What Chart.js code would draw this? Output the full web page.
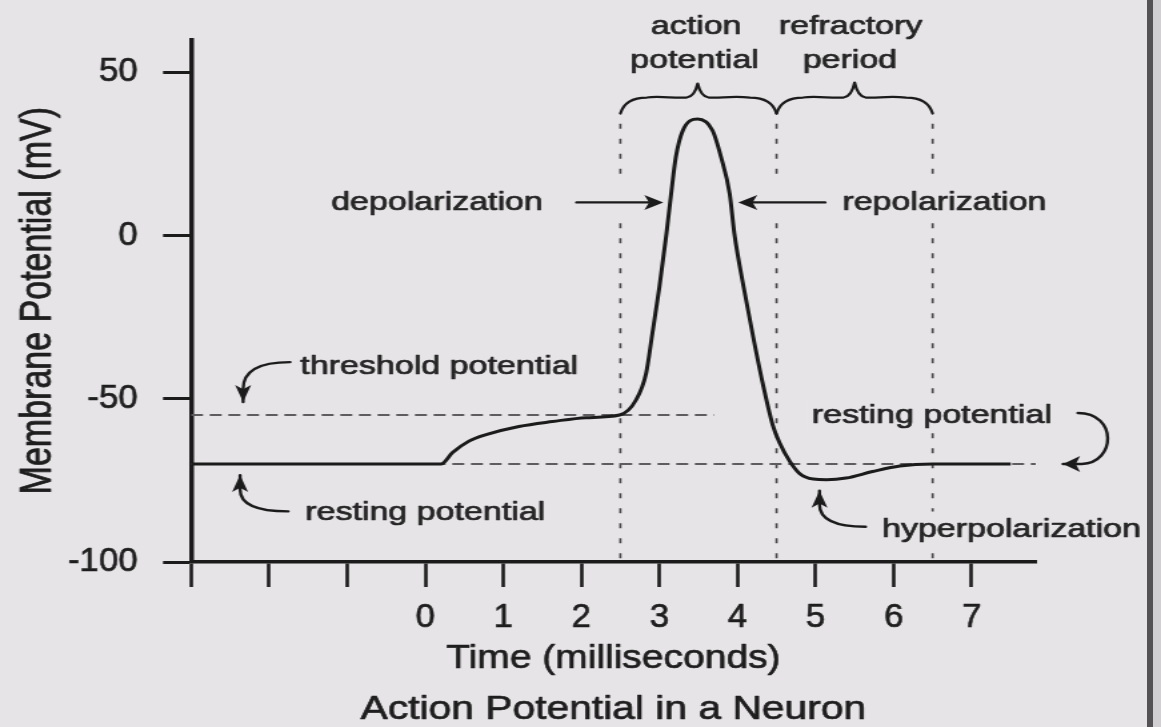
<!DOCTYPE html>
<html>
<head>
<meta charset="utf-8">
<script src="https://cdn.jsdelivr.net/npm/chart.js@4/dist/chart.umd.min.js"></script>
<style>
  html, body { margin: 0; padding: 0; background: #e7e4e7; overflow: hidden; }
  #wrap { position: relative; width: 1161px; height: 727px; }
  #c { display: block; width: 1161px !important; height: 727px !important; }
  #edge { position: absolute; left: 1147px; top: 0; width: 6px; height: 727px; background: #555255; }
  #edge2 { position: absolute; left: 1153px; top: 0; width: 8px; height: 727px; background: #d2cfd2; }
</style>
</head>
<body>
<div id="wrap">
  <canvas id="c" width="871" height="727" style="width:1161px;height:727px;"></canvas>
  <div id="edge"></div><div id="edge2"></div>
</div>
<script>
// ---- data ----
const timeMs = [-3, 0, 0.2, 0.35, 0.56, 0.78, 1.2, 1.63, 2.06, 2.49, 2.7, 2.83, 2.91, 3.0, 3.09, 3.15, 3.21, 3.3, 3.49, 3.68, 3.79, 3.9, 3.96, 4.08, 4.2, 4.32, 4.45, 4.54, 4.67, 4.79, 4.97, 5.14, 5.39, 5.73, 6.08, 6.5, 7.5];
const membraneMv = [-70, -70, -70, -66.5, -63, -61, -58.5, -57, -55.8, -55, -50.4, -42.2, -30, -15.8, 0.5, 12.7, 23.9, 32.1, 35.6, 32.1, 23.9, 12.7, 0.5, -16, -31, -45, -58, -63.6, -69.2, -72.8, -74.6, -74.8, -74.3, -72.3, -70.6, -70, -70];
const xTickValues = [-3, -2, -1, 0, 1, 2, 3, 4, 5, 6, 7];
const xTickLabels = ['', '', '', '0', '1', '2', '3', '4', '5', '6', '7'];
const yTickValues = [-100, -50, 0, 50];
const yTickLabels = ['-100', '-50', '0', '50'];
const thresholdMv = -55;
const restingMv = -70;
const thresholdLineEndMs = 3.7;
const phaseBoundariesMs = [2.5, 4.5, 6.5];
const boundaryTopMv = 34.2;
const boundaryGapMv = [17.8, 3.7];
const xRange = [-3, 7.82];
const yRange = [-100, 60];

// ---- annotation layout (data units) ----
const textNotes = [
  { text: 'action', x: 3.47, y: 61.6 },
  { text: 'potential', x: 3.45, y: 51.2 },
  { text: 'refractory', x: 5.45, y: 61.6 },
  { text: 'period', x: 5.44, y: 51.2 },
  { text: 'depolarization', x: 0.15, y: 7.9 },
  { text: 'repolarization', x: 6.65, y: 7.9 },
  { text: 'threshold potential', x: 0.18, y: -42.3 },
  { text: 'resting potential', x: 0.0, y: -87.0 },
  { text: 'resting potential', x: 6.49, y: -57.5, knockout: true },
  { text: 'hyperpolarization', x: 7.51, y: -92.2, knockout: true }
];
const straightArrows = [
  { from: [1.94, 10.1], to: [3.05, 10.1] },
  { from: [5.12, 10.1], to: [4.01, 10.1] }
];
const curvedArrows = [
  { pts: [[-1.731, -38.8], [-2.333, -38.8], [-2.333, -47.0]], tip: [-2.333, -51.0] },
  { pts: [[-1.756, -84.5], [-2.372, -84.5], [-2.372, -77.8]], tip: [-2.372, -73.4] },
  { pts: [[5.64, -89.2], [5.05, -89.2], [5.05, -82.4]], tip: [5.05, -78.2] },
  { pts: [[8.36, -54.4], [8.87, -54.4], [8.85, -69.6], [8.41, -70.0]], tip: [8.17, -70.0] }
];
const braces = [
  { from: 2.5, to: 4.5, mid: 3.49, endMv: 37.3, flatMv: 42.2, tipMv: 46.5 },
  { from: 4.5, to: 6.5, mid: 5.5, endMv: 37.3, flatMv: 42.2, tipMv: 46.8 }
];

const INK = '#1b1b1b';
const TEXT = '#252525';
const BG = '#e7e4e7';
const SANS = "'Liberation Sans', Arial, sans-serif";
const XS = 871 / 1161; // canvas px per screen px horizontally

// condensed, slightly heavier lettering like the reference print
const canvas = document.getElementById('c');
const ctx0 = canvas.getContext('2d');
const rawFill = ctx0.fillText.bind(ctx0);
const rawStroke = ctx0.strokeText.bind(ctx0);
function condenseFactor(text) {
  if (/^-?\d+$/.test(text)) return 0.77;
  if (text === 'Time (milliseconds)') return 0.86;
  if (text === 'Action Potential in a Neuron') return 0.9;
  return 0;
}
ctx0.fillText = function (text, x, y, maxWidth) {
  const f = condenseFactor(String(text));
  let w = maxWidth;
  if (f) {
    w = this.measureText(text).width * f;
    if (maxWidth !== undefined && maxWidth < w) w = maxWidth;
  }
  this.save();
  this.lineWidth = 0.7;
  this.lineJoin = 'round';
  this.strokeStyle = this.fillStyle;
  if (w === undefined) { rawFill(text, x, y); rawStroke(text, x, y); }
  else { rawFill(text, x, y, w); rawStroke(text, x, y, w); }
  this.restore();
};

function head(ctx, tipX, tipY, dx, dy, len, halfW) {
  const bx = -dx * len, by = -dy * len;
  const px = -dy * halfW, py = dx * halfW;
  ctx.beginPath();
  ctx.moveTo(tipX, tipY);
  ctx.lineTo(tipX + (bx + px) * XS, tipY + by + py);
  ctx.lineTo(tipX + bx * 0.75 * XS, tipY + by * 0.75);
  ctx.lineTo(tipX + (bx - px) * XS, tipY + by - py);
  ctx.closePath();
  ctx.fill();
}

const annotate = {
  id: 'annotate',
  afterDraw(chart) {
    const ctx = chart.ctx;
    const xs = chart.scales.x, ys = chart.scales.y;
    const X = v => xs.getPixelForValue(v);
    const Y = v => ys.getPixelForValue(v);
    ctx.save();
    ctx.strokeStyle = INK;
    ctx.fillStyle = INK;
    ctx.lineCap = 'round';
    ctx.lineJoin = 'round';

    ctx.lineWidth = 2.2;
    braces.forEach(b => {
      const x0 = X(b.from), x1 = X(b.to), xm = X(b.mid);
      const yE = Y(b.endMv), yF = Y(b.flatMv), yT = Y(b.tipMv);
      const w = x1 - x0;
      ctx.beginPath();
      ctx.moveTo(x0, yE);
      ctx.quadraticCurveTo(x0 + 0.03 * w, yF, x0 + 0.17 * w, yF);
      ctx.bezierCurveTo(xm - 0.25 * w, yF - 2, xm - 0.15 * w, yF + 1, xm - 0.07 * w, yF);
      ctx.quadraticCurveTo(xm - 0.02 * w, yF - 1, xm, yT);
      ctx.quadraticCurveTo(xm + 0.02 * w, yF - 1, xm + 0.07 * w, yF);
      ctx.bezierCurveTo(xm + 0.15 * w, yF + 1, x1 - 0.3 * w, yF - 2, x1 - 0.17 * w, yF);
      ctx.quadraticCurveTo(x1 - 0.03 * w, yF, x1, yE);
      ctx.stroke();
    });

    ctx.lineWidth = 2.4;
    straightArrows.forEach(a => {
      const x0 = X(a.from[0]), y0 = Y(a.from[1]), x1 = X(a.to[0]), y1 = Y(a.to[1]);
      const dir = Math.sign(x1 - x0);
      ctx.beginPath();
      ctx.moveTo(x0, y0);
      ctx.lineTo(x1 - dir * 10 * XS, y1);
      ctx.stroke();
      head(ctx, x1, y1, dir, 0, 19, 7.5);
    });

    curvedArrows.forEach(a => {
      const p = a.pts.map(q => [X(q[0]), Y(q[1])]);
      ctx.beginPath();
      ctx.moveTo(p[0][0], p[0][1]);
      if (p.length === 3) ctx.quadraticCurveTo(p[1][0], p[1][1], p[2][0], p[2][1]);
      else ctx.bezierCurveTo(p[1][0], p[1][1], p[2][0], p[2][1], p[3][0], p[3][1]);
      const tx = X(a.tip[0]), ty = Y(a.tip[1]);
      ctx.lineTo(tx, ty);
      ctx.stroke();
      const last = p[p.length - 1];
      const dx = (tx - last[0]) / XS, dy = ty - last[1];
      const L = Math.hypot(dx, dy) || 1;
      head(ctx, tx, ty, dx / L, dy / L, 17, 8);
    });

    ctx.font = '25.5px ' + SANS;
    ctx.textAlign = 'center';
    ctx.textBaseline = 'alphabetic';
    textNotes.forEach(t => {
      const x = X(t.x), y = Y(t.y);
      if (t.knockout) {
        const w = ctx.measureText(t.text).width;
        ctx.fillStyle = BG;
        ctx.fillRect(x - w / 2 - 4, y - 25, w + 8, 33);
      }
      ctx.fillStyle = TEXT;
      ctx.fillText(t.text, x, y);
    });
    ctx.restore();
  }
};

const lineDatasets = [
  {
    data: timeMs.map((t, i) => ({ x: t, y: membraneMv[i] })),
    borderColor: INK, borderWidth: 3, pointRadius: 0,
    cubicInterpolationMode: 'monotone', fill: false
  },
  {
    data: [{ x: xRange[0], y: thresholdMv }, { x: thresholdLineEndMs, y: thresholdMv }],
    borderColor: '#5e5c5e', borderWidth: 1.8, borderDash: [9, 5], pointRadius: 0, tension: 0
  },
  {
    data: [{ x: xRange[0], y: restingMv }, { x: xRange[1], y: restingMv }],
    borderColor: '#5e5c5e', borderWidth: 1.8, borderDash: [9, 5], pointRadius: 0, tension: 0
  }
].concat(phaseBoundariesMs.map(b => ({
  data: [{ x: b, y: boundaryTopMv }, { x: b, y: boundaryGapMv[0] }, { x: b, y: null }, { x: b, y: boundaryGapMv[1] }, { x: b, y: yRange[0] }],
  borderColor: '#4a4a4a', borderWidth: 1.7, borderDash: [5, 10], pointRadius: 0, tension: 0, spanGaps: false
})));

new Chart(canvas, {
  type: 'line',
  data: { datasets: lineDatasets },
  plugins: [annotate],
  options: {
    responsive: false,
    animation: false,
    devicePixelRatio: 1,
    events: [],
    layout: { padding: { left: 0, top: 38, right: 94, bottom: 0 } },
    plugins: {
      legend: { display: false },
      tooltip: { enabled: false },
      title: {
        display: true, position: 'bottom', fullSize: false, text: 'Action Potential in a Neuron',
        color: '#1e1e1e', font: { family: SANS, size: 34, weight: 'normal', lineHeight: 1 },
        padding: { top: 0, bottom: 0 }
      }
    },
    scales: {
      x: {
        type: 'linear', min: xRange[0], max: xRange[1],
        afterFit(s) { s.height = 131; },
        afterBuildTicks(s) { s.ticks = xTickValues.map(v => ({ value: v })); },
        grid: { display: true, drawOnChartArea: false, drawTicks: true, tickLength: 25, tickWidth: 2.6, tickColor: INK },
        border: { display: true, color: INK, width: 3.5 },
        ticks: {
          color: '#1e1e1e', padding: 10, maxRotation: 0, autoSkip: false,
          font: { family: SANS, size: 34, lineHeight: 1.2 },
          callback: (v) => { const i = xTickValues.indexOf(v); return i >= 0 ? xTickLabels[i] : ''; }
        },
        title: {
          display: true, text: 'Time (milliseconds)', color: '#1e1e1e',
          font: { family: SANS, size: 34, lineHeight: 1.2 },
          padding: { top: 0, bottom: 13.6 }
        }
      },
      y: {
        type: 'linear', min: yRange[0], max: yRange[1],
        afterFit(s) { s.width = 143.3; },
        afterBuildTicks(s) { s.ticks = yTickValues.map(v => ({ value: v })); },
        grid: { display: true, drawOnChartArea: false, drawTicks: true, tickLength: 21, tickWidth: 3, tickColor: INK },
        border: { display: true, color: INK, width: 3.5 },
        ticks: {
          color: '#1e1e1e', padding: 19, autoSkip: false,
          font: { family: SANS, size: 34, lineHeight: 1.2 },
          callback: (v) => { const i = yTickValues.indexOf(v); return i >= 0 ? yTickLabels[i] : ''; }
        },
        title: {
          display: true, text: 'Membrane Potential (mV)', color: '#1e1e1e',
          font: { family: SANS, size: 34, lineHeight: 1.2 },
          padding: { top: 8, bottom: 0 }
        }
      }
    }
  }
});
</script>
</body>
</html>
